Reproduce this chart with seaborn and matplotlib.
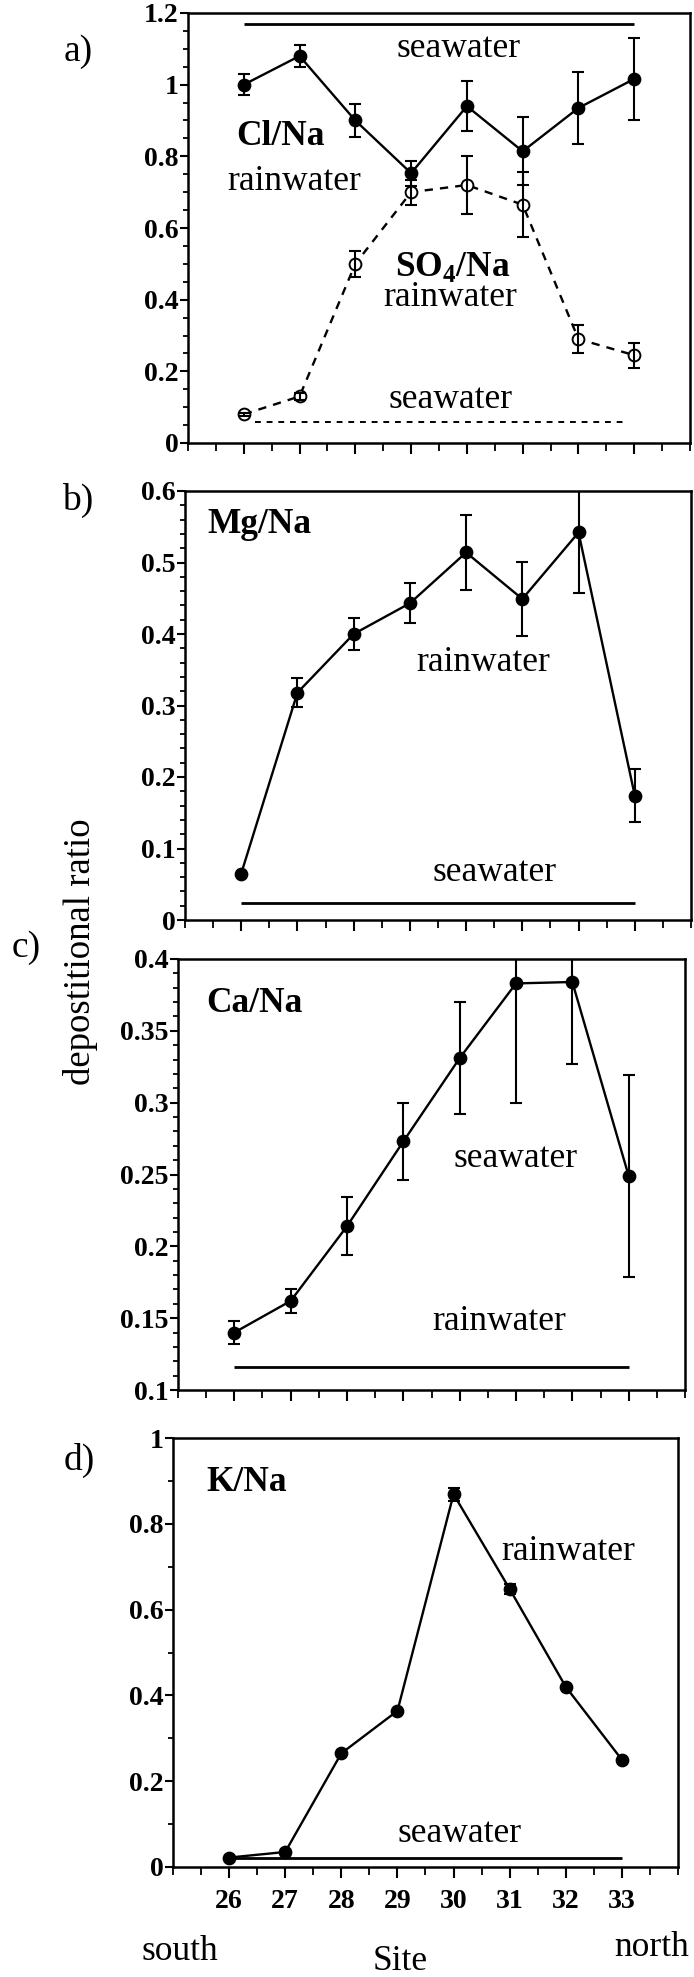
import numpy as np
import pandas as pd
import matplotlib
matplotlib.use("Agg")
import matplotlib.pyplot as plt
import seaborn as sns
from matplotlib.ticker import MultipleLocator, FuncFormatter, FixedLocator

# ---------------- data ----------------
sites = [26, 27, 28, 29, 30, 31, 32, 33]
site_labels = ["26", "27", "28", "29", "30", "31", "32", "33"]

cl_na = [1.00, 1.08, 0.90, 0.753, 0.94, 0.814, 0.935, 1.016]
cl_na_err = [0.03, 0.03, 0.045, 0.035, 0.07, 0.095, 0.10, 0.115]
so4_na = [0.08, 0.13, 0.50, 0.70, 0.72, 0.665, 0.29, 0.245]
so4_na_err = [0.005, 0.01, 0.037, 0.035, 0.08, 0.09, 0.04, 0.035]
mg_na = [0.065, 0.318, 0.40, 0.443, 0.514, 0.449, 0.542, 0.174]
mg_na_err = [0.0, 0.02, 0.023, 0.028, 0.052, 0.052, 0.085, 0.037]
ca_na = [0.14, 0.162, 0.214, 0.273, 0.331, 0.383, 0.384, 0.249]
ca_na_err = [0.008, 0.0085, 0.02, 0.027, 0.039, 0.083, 0.057, 0.07]
k_na = [0.022, 0.035, 0.265, 0.364, 0.869, 0.648, 0.42, 0.25]
k_na_err = [0.0, 0.0, 0.0, 0.0, 0.015, 0.012, 0.0, 0.0]

cl_seawater = 1.17
so4_seawater = 0.058
mg_seawater = 0.024
ca_rainwater = 0.116
k_seawater = 0.022

# ---------------- style ----------------
sns.set_style("ticks")
plt.rcParams['font.family'] = ['Liberation Serif', 'DejaVu Serif']
plt.rcParams['text.color'] = 'black'
plt.rcParams['axes.labelcolor'] = 'black'
plt.rcParams['mathtext.fontset'] = 'custom'
plt.rcParams['mathtext.rm'] = 'Liberation Serif'
plt.rcParams['mathtext.bf'] = 'Liberation Serif:bold'

W, H = 694, 1977
fig = plt.figure(figsize=(W / 100, H / 100), dpi=100)
FS = 25.5      # annotation text
FSB = 25.5     # bold ratio names
FST = 20       # tick labels
FSL = 27       # panel letters


def add_ax(left, right, top, bottom):
    return fig.add_axes([left / W, 1 - bottom / H, (right - left) / W, (bottom - top) / H])


def style(ax, ylim, major, minor, xlabels=False):
    ax.set_xlim(25, 34)
    ax.set_ylim(*ylim)
    ax.xaxis.set_major_locator(FixedLocator(sites))
    ax.xaxis.set_minor_locator(MultipleLocator(0.5))
    ax.yaxis.set_major_locator(MultipleLocator(major))
    ax.yaxis.set_minor_locator(MultipleLocator(minor))
    ax.yaxis.set_major_formatter(FuncFormatter(lambda v, p: f"{v:g}"))
    ax.tick_params(axis='both', which='major', direction='out', width=1.5,
                   labelsize=FST, color='black', labelcolor='black')
    ax.tick_params(axis='both', which='minor', direction='out', width=1.3, color='black')
    ax.tick_params(axis='y', which='major', length=6, pad=1)
    ax.tick_params(axis='y', which='minor', length=3.5)
    ax.tick_params(axis='x', which='major', length=8, pad=8, labelbottom=xlabels)
    ax.tick_params(axis='x', which='minor', length=6)
    for lab in ax.get_yticklabels():
        lab.set_fontweight('bold')
    if xlabels:
        ax.set_xticklabels(site_labels, fontweight='bold')
    for s in ax.spines.values():
        s.set_linewidth(1.8)
        s.set_color('black')
    ax.set_xlabel('')
    ax.set_ylabel('')


def series(ax, y, err, dashed=False, open_=False):
    df = pd.DataFrame({'site': sites, 'ratio': y})
    ax.errorbar(sites, y, yerr=err, fmt='none', ecolor='black', elinewidth=1.5,
                capsize=4.5, capthick=1.5, zorder=5 if open_ else 3)
    sns.lineplot(data=df, x='site', y='ratio', ax=ax, color='black', lw=1.7,
                 linestyle=(0, (3.5, 3)) if dashed else '-',
                 marker='o', markersize=8.5,
                 markerfacecolor='white' if open_ else 'black',
                 markeredgecolor='black', markeredgewidth=1.4, zorder=4)


# ---------------- panel a ----------------
ax_a = add_ax(188, 690, 13, 443)
series(ax_a, cl_na, cl_na_err)
series(ax_a, so4_na, so4_na_err, dashed=True, open_=True)
ax_a.hlines(cl_seawater, sites[0], sites[-1], color='black', lw=2.0)
ax_a.hlines(so4_seawater, sites[0] + 0.2, sites[-1] - 0.15, color='black', lw=1.4,
            linestyles=[(0, (3, 3))])
style(ax_a, (0, 1.2), 0.2, 0.05)
ax_a.text(29.85, 1.102, "seawater", fontsize=FS, ha='center', va='center')
ax_a.text(26.65, 0.856, "Cl/Na", fontsize=FSB, fontweight='bold', ha='center', va='center')
ax_a.text(26.9, 0.73, "rainwater", fontsize=FS, ha='center', va='center')
ax_a.text(29.75, 0.49, r"SO$_\mathbf{4}$/Na", fontsize=FSB, fontweight='bold', ha='center', va='center')
ax_a.text(29.7, 0.405, "rainwater", fontsize=FS, ha='center', va='center')
ax_a.text(29.7, 0.121, "seawater", fontsize=FS, ha='center', va='center')

# ---------------- panel b ----------------
ax_b = add_ax(185, 691, 491, 920)
series(ax_b, mg_na, mg_na_err)
ax_b.hlines(mg_seawater, sites[0], sites[-1], color='black', lw=2.0)
style(ax_b, (0, 0.6), 0.1, 0.02)
ax_b.text(25.4, 0.553, "Mg/Na", fontsize=FSB, fontweight='bold', ha='left', va='center')
ax_b.text(30.3, 0.36, "rainwater", fontsize=FS, ha='center', va='center')
ax_b.text(30.5, 0.066, "seawater", fontsize=FS, ha='center', va='center')

# ---------------- panel c ----------------
ax_c = add_ax(178, 685, 959, 1390)
series(ax_c, ca_na, ca_na_err)
ax_c.hlines(ca_rainwater, sites[0], sites[-1], color='black', lw=2.0)
style(ax_c, (0.1, 0.4), 0.05, 0.01)
ax_c.text(25.5, 0.369, "Ca/Na", fontsize=FSB, fontweight='bold', ha='left', va='center')
ax_c.text(31.0, 0.261, "seawater", fontsize=FS, ha='center', va='center')
ax_c.text(30.7, 0.148, "rainwater", fontsize=FS, ha='center', va='center')

# ---------------- panel d ----------------
ax_d = add_ax(173, 678, 1438, 1867)
series(ax_d, k_na, k_na_err)
ax_d.hlines(k_seawater, sites[0], sites[-1], color='black', lw=2.0)
style(ax_d, (0, 1.0), 0.2, 0.1, xlabels=True)
ax_d.text(25.6, 0.896, "K/Na", fontsize=FSB, fontweight='bold', ha='left', va='center')
ax_d.text(32.05, 0.736, "rainwater", fontsize=FS, ha='center', va='center')
ax_d.text(30.1, 0.078, "seawater", fontsize=FS, ha='center', va='center')

# ---------------- figure texts ----------------
fig.text(78 / W, 1 - 52 / H, "a)", fontsize=FSL, ha='center', va='center')
fig.text(78 / W, 1 - 500 / H, "b)", fontsize=FSL, ha='center', va='center')
fig.text(26 / W, 1 - 948 / H, "c)", fontsize=FSL, ha='center', va='center')
fig.text(79 / W, 1 - 1460 / H, "d)", fontsize=FSL, ha='center', va='center')
fig.text(81 / W, 1 - 952 / H, "depostitional ratio", fontsize=26.5, rotation=90,
         ha='center', va='center')
fig.text(180 / W, 1 - 1951 / H, "south", fontsize=FS, ha='center', va='center')
fig.text(400 / W, 1 - 1961 / H, "Site", fontsize=FS, ha='center', va='center')
fig.text(652 / W, 1 - 1947 / H, "north", fontsize=FS, ha='center', va='center')

fig.savefig("out.png", dpi=100)
